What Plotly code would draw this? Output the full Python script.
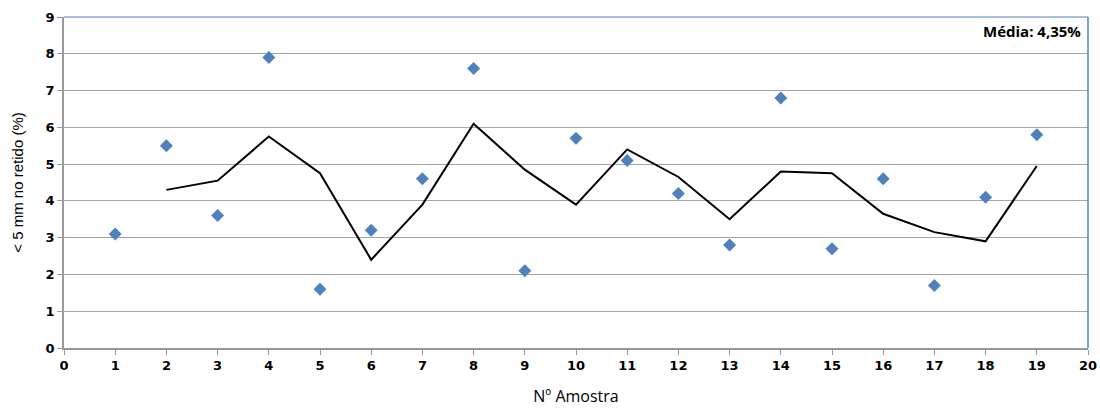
import plotly.graph_objects as go

amostra = list(range(1, 20))
valores = [3.1, 5.5, 3.6, 7.9, 1.6, 3.2, 4.6, 7.6, 2.1, 5.7, 5.1, 4.2, 2.8, 6.8, 2.7, 4.6, 1.7, 4.1, 5.8]
media_movel_x = list(range(2, 20))
media_movel = [4.3, 4.55, 5.75, 4.75, 2.4, 3.9, 6.1, 4.85, 3.9, 5.4, 4.65, 3.5, 4.8, 4.75, 3.65, 3.15, 2.9, 4.95]
x_ticks = list(range(0, 21))
y_ticks = list(range(0, 10))

fig = go.Figure()
fig.add_trace(go.Scatter(x=media_movel_x, y=media_movel, mode="lines",
                         line=dict(color="black", width=2), showlegend=False))
fig.add_trace(go.Scatter(x=amostra, y=valores, mode="markers",
                         marker=dict(symbol="diamond", size=10, color="#4F81BD"),
                         showlegend=False))

fig.update_layout(
    width=1100, height=408,
    margin=dict(l=64, r=12, t=17, b=60, autoexpand=False),
    plot_bgcolor="white", paper_bgcolor="white",
    font=dict(family="DejaVu Sans", color="black"),
    xaxis=dict(range=[0, 20], tickvals=x_ticks, ticks="outside", ticklen=5,
               tickcolor="#999999", showgrid=False, showline=True,
               linecolor="#999999", linewidth=1.5, zeroline=False, automargin=False,
               tickfont=dict(family="DejaVu Sans", size=13, weight="bold"),
               title=dict(text="Nº Amostra", font=dict(family="Open Sans", size=16), standoff=18)),
    yaxis=dict(range=[0, 9], tickvals=y_ticks, ticks="outside", ticklen=5,
               tickcolor="#999999", showgrid=True, gridcolor="#A6A6A6", gridwidth=1.2,
               showline=True, linecolor="#999999", linewidth=1.5, zeroline=False, automargin=False,
               tickfont=dict(family="DejaVu Sans", size=13, weight="bold"),
               title=dict(text="< 5 mm no retido (%)", font=dict(family="Liberation Sans", size=15), standoff=18)),
    shapes=[
        dict(type="line", xref="paper", yref="paper", x0=1, x1=1, y0=0, y1=1,
             line=dict(color="#4F81BD", width=1.5)),
        dict(type="line", xref="paper", yref="paper", x0=0, x1=1, y0=1, y1=1,
             line=dict(color="#4F81BD", width=1)),
    ],
    annotations=[dict(text="<b>Média: 4,35%</b>", xref="paper", yref="paper",
                      x=0.995, y=0.995, xanchor="right", yanchor="top", showarrow=False,
                      font=dict(family="Open Sans", size=15, color="black"))],
)

fig.write_html("out.html", config={"displayModeBar": False},
               post_script="document.body.style.margin='0';document.body.style.overflow='hidden';")
